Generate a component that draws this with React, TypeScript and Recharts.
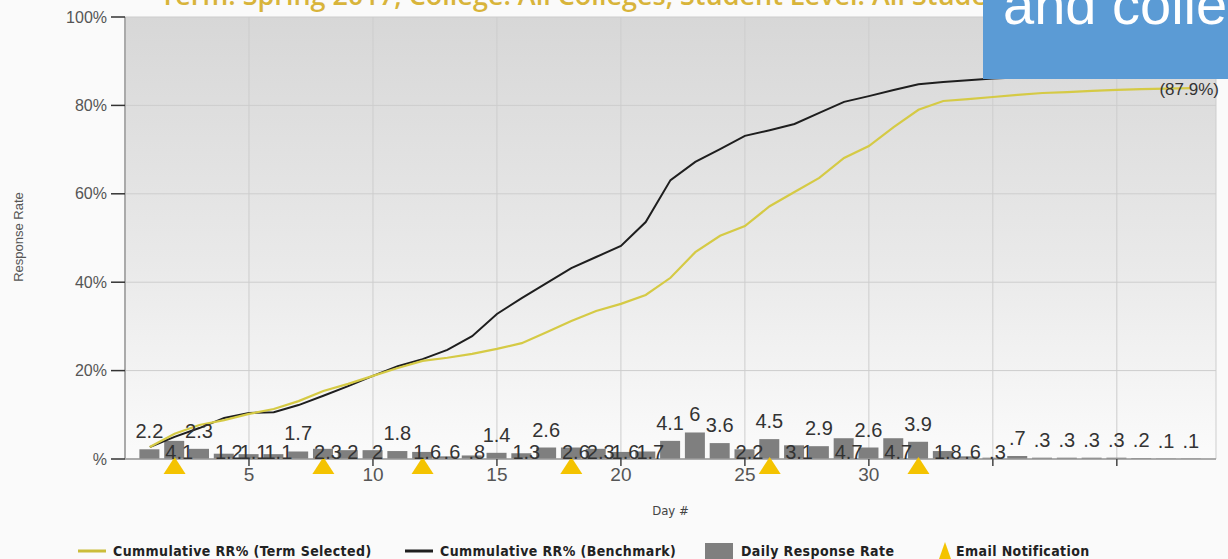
import React from 'react';
import {
  ComposedChart,
  Bar,
  Line,
  Scatter,
  XAxis,
  YAxis,
  CartesianGrid,
  LabelList,
  Label,
} from 'recharts';

// Day numbers of the survey window
const days = [
  1, 2, 3, 4, 5, 6, 7, 8, 9, 10, 11, 12, 13, 14, 15, 16, 17, 18, 19, 20, 21, 22,
  23, 24, 25, 26, 27, 28, 29, 30, 31, 32, 33, 34, 35, 36, 37, 38, 39, 40, 41, 42, 43,
];

// Cumulative response rate (%) for the selected term
const termSelected = [
  2.7, 5.7, 7.7, 8.8, 10.2, 11.3, 13.1, 15.4, 17.0, 18.8, 20.6, 22.2, 22.9, 23.8,
  24.9, 26.2, 28.7, 31.2, 33.5, 35.1, 37.1, 41.0, 46.8, 50.5, 52.7, 57.2, 60.4,
  63.6, 68.1, 70.8, 75.1, 79.0, 81.0, 81.4, 81.9, 82.4, 82.8, 83.0, 83.3, 83.5,
  83.7, 83.8, 83.9,
];

// Cumulative response rate (%) for the benchmark
const benchmark = [
  2.7, 5.0, 7.0, 9.3, 10.4, 10.6, 12.2, 14.3, 16.5, 18.8, 21.0, 22.6, 24.7, 27.8,
  32.8, 36.4, 39.8, 43.2, 45.7, 48.2, 53.6, 63.1, 67.2, 70.1, 73.1, 74.4, 75.8,
  78.3, 80.8, 82.1, 83.5, 84.8, 85.3, 85.7, 86.1, 86.3, 86.4, 86.5, 86.6, 86.7,
  86.8, 86.9, 87.9,
];

// Daily response rate (%)
const dailyRate = [
  2.2, 4.1, 2.3, 1.2, 1.1, 1.1, 1.7, 2.3, 2.0, 2.0, 1.8, 1.6, 0.6, 0.8, 1.4, 1.3,
  2.6, 2.6, 2.3, 1.6, 1.7, 4.1, 6.0, 3.6, 2.2, 4.5, 3.1, 2.9, 4.7, 2.6, 4.7, 3.9,
  1.8, 0.6, 0.3, 0.7, 0.3, 0.3, 0.3, 0.3, 0.2, 0.1, 0.1,
];

// Days on which an email notification went out
const emailDays = [2, 8, 12, 18, 26, 32];

const yTicks = [0, 20, 40, 60, 80, 100];
const xTicks = [5, 10, 15, 20, 25, 30, 35, 40];
const lastLabelledDay = 30;

const titleText = 'Term: Spring 2017, College: All Colleges, Student Level: All Students';
const calloutText = 'and college';

const legendItems = [
  { name: 'Cummulative RR% (Term Selected)', kind: 'line', color: '#cbbd3a' },
  { name: 'Cummulative RR% (Benchmark)', kind: 'line', color: '#1e1e1e' },
  { name: 'Daily Response Rate', kind: 'square', color: '#7f7f7f' },
  { name: 'Email Notification', kind: 'triangle', color: '#f4c300' },
];

// Bars whose value text sits above the bar instead of at its foot
const raisedLabelDays = new Set([
  1, 3, 7, 11, 15, 17, 22, 23, 24, 26, 28, 30, 32, 36, 37, 38, 39, 40, 41, 42, 43,
]);

const rows = days.map((day, i) => ({
  day,
  term: termSelected[i],
  bench: benchmark[i],
  daily: dailyRate[i],
}));

const emailRows = emailDays.map((day) => ({ day, mark: 0 }));

const fmtDaily = (v: number) => {
  let s = String(Number(v.toFixed(1)));
  if (s.startsWith('0.')) s = s.slice(1);
  return s;
};

const BarValue = (props: any) => {
  const { x, y, width, value } = props;
  const day = Number(value);
  const v = dailyRate[day - 1];
  if (v === undefined) return null;
  const cx = Number(x) + Number(width) / 2;
  const raised = raisedLabelDays.has(day);
  return (
    <text
      x={raised ? cx : cx + 5}
      y={raised ? Number(y) - 11 : 459}
      textAnchor="middle"
      fontSize={20}
      fontFamily="'Liberation Sans', Arial, sans-serif"
      fill="#333"
    >
      {fmtDaily(v)}
    </text>
  );
};

const BenchEndLabel = (props: any) => {
  const { x, y, value, index } = props;
  if (index !== rows.length - 1) return null;
  return (
    <text
      x={Number(x) - 2}
      y={Number(y) + 25}
      textAnchor="middle"
      fontSize={17}
      fontFamily="'Liberation Sans', Arial, sans-serif"
      fill="#333"
    >
      {`(${value}%)`}
    </text>
  );
};

const EmailTriangle = (props: any) => {
  const { cx, cy } = props;
  if (cx == null || cy == null) return null;
  return (
    <polygon
      points={`${cx},${cy - 2} ${cx - 11},${cy + 15} ${cx + 11},${cy + 15}`}
      fill="#f4c300"
    />
  );
};

const YTitle = () => (
  <text
    x={18}
    y={237}
    transform="rotate(-90, 18, 237)"
    textAnchor="middle"
    dominantBaseline="central"
    fontSize={13}
    fontFamily="'Liberation Sans', Arial, sans-serif"
    fill="#555"
  >
    Response Rate
  </text>
);

const LegendMark = ({ kind, color }: { kind: string; color: string }) => {
  if (kind === 'line')
    return (
      <svg width={28} height={14} style={{ marginRight: 7 }}>
        <line x1={0} y1={7} x2={28} y2={7} stroke={color} strokeWidth={3} />
      </svg>
    );
  if (kind === 'square')
    return (
      <svg width={28} height={16} style={{ marginRight: 8 }}>
        <rect x={0} y={0} width={28} height={16} fill={color} />
      </svg>
    );
  return (
    <svg width={14} height={18} style={{ marginRight: 4 }}>
      <polygon points="7,0 1,17 13,17" fill={color} />
    </svg>
  );
};

const legendLeft = [78, 405, 705, 938];

export default function App() {
  return (
    <div
      style={{
        position: 'absolute',
        left: 0,
        top: 0,
        width: 1228,
        height: 559,
        background: '#fafafa',
        overflow: 'hidden',
      }}
    >
      <ComposedChart
        width={1228}
        height={559}
        data={rows}
        margin={{ top: 17, right: 12, bottom: 70, left: 0 }}
      >
        <defs>
          <linearGradient id="plotShade" x1="0" y1="0" x2="0" y2="1">
            <stop offset="0%" stopColor="#d7d7d7" />
            <stop offset="55%" stopColor="#e9e9e9" />
            <stop offset="100%" stopColor="#fbfbfb" />
          </linearGradient>
        </defs>
        <CartesianGrid stroke="#cdcdcd" fill="url(#plotShade)" />
        <XAxis
          dataKey="day"
          type="number"
          domain={[0, 44]}
          ticks={xTicks}
          height={30}
          tickFormatter={(v: number) => (v <= lastLabelledDay ? String(v) : '')}
          tick={{ fontSize: 19, fill: '#555', fontFamily: "'Liberation Sans', Arial, sans-serif" }}
          tickSize={7}
          tickMargin={2}
          axisLine={{ stroke: '#9a9a9a', strokeWidth: 1.5 }}
          tickLine={{ stroke: '#444', strokeWidth: 1.5 }}
        >
          <Label
            value="Day #"
            position="bottom"
            offset={17}
            fontSize={13}
            fill="#444"
            fontFamily="'DejaVu Sans Condensed', 'Liberation Sans Narrow', sans-serif"
          />
        </XAxis>
        <YAxis
          type="number"
          domain={[0, 100]}
          ticks={yTicks}
          width={125}
          tickFormatter={(v: number) => (v === 0 ? '%' : `${v}%`)}
          tick={{ fontSize: 16, fill: '#555', fontFamily: "'Liberation Sans', Arial, sans-serif" }}
          tickSize={14}
          tickMargin={4}
          axisLine={{ stroke: '#aaa', strokeWidth: 2 }}
          tickLine={{ stroke: '#333', strokeWidth: 1.5 }}
        >
          <Label content={<YTitle />} />
        </YAxis>
        <Bar dataKey="daily" fill="#7f7f7f" barSize={20} isAnimationActive={false}>
          <LabelList dataKey="day" content={<BarValue />} />
        </Bar>
        <Line
          dataKey="bench"
          stroke="#1e1e1e"
          strokeWidth={2}
          dot={false}
          type="linear"
          isAnimationActive={false}
        >
          <LabelList dataKey="bench" content={<BenchEndLabel />} />
        </Line>
        <Line
          dataKey="term"
          stroke="#d5ca45"
          strokeWidth={2.2}
          dot={false}
          type="linear"
          isAnimationActive={false}
        />
        <Scatter
          data={emailRows}
          dataKey="mark"
          shape={<EmailTriangle />}
          isAnimationActive={false}
        />
      </ComposedChart>

      <svg
        width={1228}
        height={40}
        style={{ position: 'absolute', left: 0, top: 0, pointerEvents: 'none' }}
      >
        <text
          x={160}
          y={5}
          fontSize={27}
          fontWeight={600}
          fontFamily="'Open Sans', Lato, sans-serif"
          fill="#d8b43a"
        >
          {titleText}
        </text>
      </svg>

      <div
        style={{
          position: 'absolute',
          left: 983,
          top: 0,
          width: 245,
          height: 79,
          background: '#5b9bd5',
          overflow: 'hidden',
        }}
      >
        <svg width={245} height={79}>
          <text
            x={20}
            y={24}
            fontSize={56}
            fill="#fff"
            fontFamily="'Liberation Sans', Arial, sans-serif"
          >
            {calloutText}
          </text>
        </svg>
      </div>

      {legendItems.map((item, i) => (
        <div
          key={item.name}
          style={{
            position: 'absolute',
            left: legendLeft[i],
            top: 541,
            height: 20,
            display: 'flex',
            alignItems: 'center',
            fontFamily: "'DejaVu Sans Condensed', 'Liberation Sans Narrow', sans-serif",
            fontWeight: 700,
            fontSize: 14,
            letterSpacing: 0.4,
            color: '#222',
            whiteSpace: 'nowrap',
          }}
        >
          <LegendMark kind={item.kind} color={item.color} />
          {item.name}
        </div>
      ))}
    </div>
  );
}
